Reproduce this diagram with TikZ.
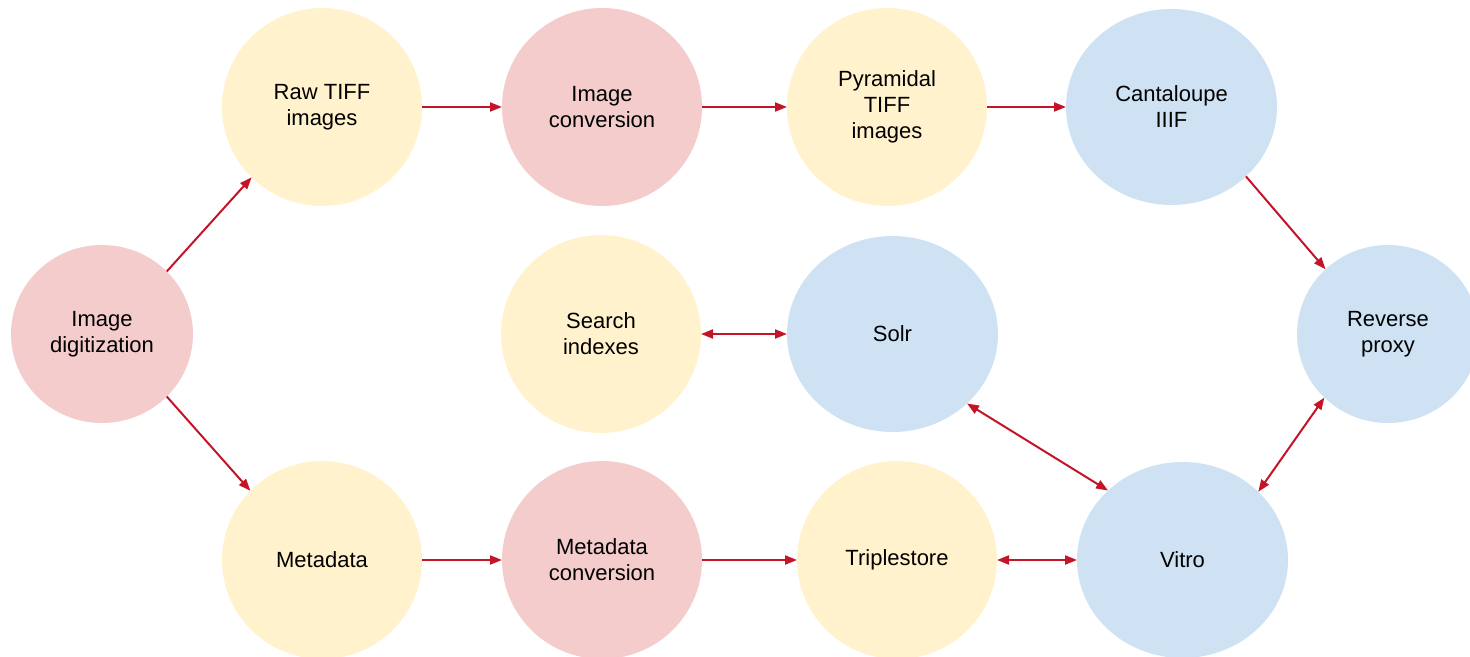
\documentclass[tikz,border=0pt]{standalone}
\usepackage{fontspec}
\setmainfont{Liberation Sans}
\usetikzlibrary{arrows.meta,shapes.geometric}
\definecolor{pinkfill}{HTML}{F4CCCC}
\definecolor{yellowfill}{HTML}{FFF2CC}
\definecolor{bluefill}{HTML}{CFE2F3}
\definecolor{arrowred}{RGB}{196,20,40}
\tikzset{
  blob/.style={ellipse, inner sep=0pt, outer sep=0pt, align=center,
    font=\fontsize{11}{13}\selectfont},
  procnode/.style={blob, fill=pinkfill, minimum width=100pt, minimum height=99pt},
  datanode/.style={blob, fill=yellowfill, minimum width=100pt, minimum height=99pt},
  servnode/.style={blob, fill=bluefill, minimum width=105.5pt, minimum height=98pt},
  onelink/.style={draw=arrowred, line width=1pt, -{Triangle[length=6pt,width=4.5pt]}},
  twolink/.style={draw=arrowred, line width=1pt,
    {Triangle[length=6pt,width=4.5pt]}-{Triangle[length=6pt,width=4.5pt]}},
}
\begin{document}
\begin{tikzpicture}[x=0.5pt,y=-0.5pt]
      \useasboundingbox (0,0) rectangle (1470,657);
      \path
        (102,334) node[procnode, minimum width=91pt, minimum height=89pt] (digit){Image\\digitization}
        (322,107) node[datanode] (raw){Raw TIFF\\images}
        (602,107) node[procnode] (imgconv){Image\\conversion}
        (887,107) node[datanode] (pyramid){Pyramidal\\TIFF\\images}
        (1171.5,107) node[servnode] (canta){Cantaloupe\\IIIF}
        (1388,334) node[servnode, minimum width=91pt, minimum height=89pt] (proxy){Reverse\\proxy}
        (601,334) node[datanode] (search){Search\\indexes}
        (892.5,334) node[servnode] (solr){Solr}
        (322,560) node[datanode] (meta){Metadata}
        (602,560) node[procnode] (metaconv){Metadata\\conversion}
        (897,560) node[datanode] (triple){Triplestore}
        (1182.5,560) node[servnode] (vitro){Vitro};
      \begin{scope}[onelink]
        \draw (digit.44) to (raw.-135);
        \draw (digit.-44) to (meta.136);
        \draw (raw.east) to (imgconv.west);
        \draw (imgconv.east) to (pyramid.west);
        \draw (pyramid.east) to (canta.west);
        \draw (canta.-43) to (proxy.134);
        \draw (meta.east) to (metaconv.west);
        \draw (metaconv.east) to (triple.west);
      \end{scope}
      \begin{scope}[twolink]
        \draw (search.east) to (solr.west);
        \draw (solr.-43) to (vitro.137.6);
        \draw (proxy.-135) to (vitro.42.8);
        \draw (triple.east) to (vitro.west);
      \end{scope}
    \end{tikzpicture}
\end{document}
